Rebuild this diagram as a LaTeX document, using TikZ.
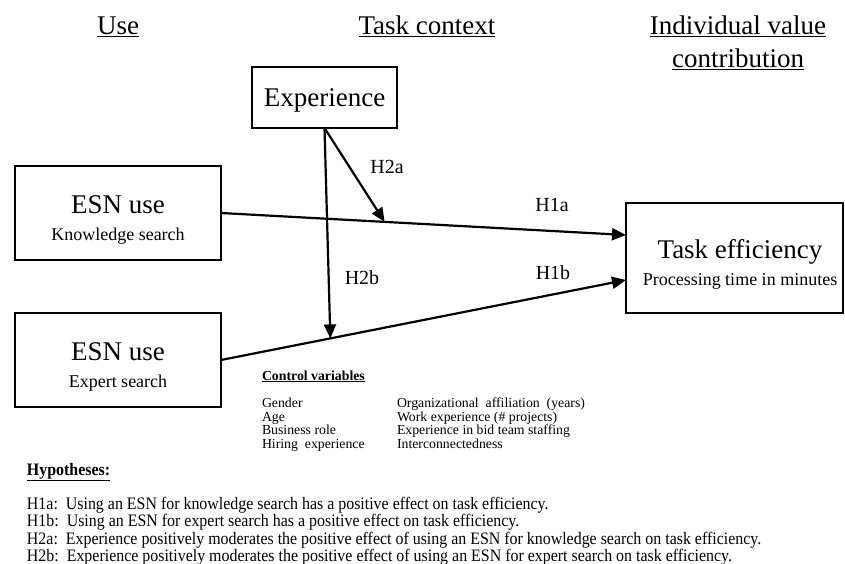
\documentclass[tikz,border=0pt]{standalone}
\usepackage{fontspec}
\setmainfont{Liberation Serif}
\newfontfamily\narrowserif{Liberation Serif}[FakeStretch=0.91]
\usetikzlibrary{arrows.meta,calc}

% extra head room above the first line of a box label
\newcommand{\toproom}{\rule{0pt}{31pt}}

\begin{document}
\begin{tikzpicture}[x=1pt,y=-1pt,
  every node/.style={inner sep=0pt, outer sep=0pt},
  box/.style={draw, line width=2.6pt, align=center},
  link/.style={line width=2.2pt, -{Triangle[length=14pt,width=12pt]}},
  head/.style={font=\fontsize{27}{32}\selectfont, anchor=base},
  hlabel/.style={font=\fontsize{20}{24}\selectfont},
  ctrl/.style={font=\fontsize{13.8}{13.5}\selectfont, anchor=base west},
  hyp/.style={font=\narrowserif\fontsize{17.5}{17}\selectfont, anchor=base west}]
\useasboundingbox (0,0) rectangle (845,564);

% column headings
\node[head] (hUse) at (118,35) {\underline{Use}};
\node[head] (hTask) at (427,35) {\underline{Task context}};
\node[head] (hInd1) at (738,35) {\underline{Individual value}};
\node[head] (hInd2) at (738,68) {\underline{contribution}};

% constructs
\node[box, minimum width=145pt, minimum height=61pt,
      font=\fontsize{27}{32}\selectfont] (exp) at (324.5,97.5) {\rule{0pt}{23pt}Experience};
\node[box, minimum width=206pt, minimum height=94pt,
      font=\fontsize{18}{27}\selectfont] (esn1) at (118,213)
  {{\fontsize{27}{27}\selectfont\toproom ESN use}\\Knowledge search};
\node[box, minimum width=206pt, minimum height=94pt,
      font=\fontsize{18}{27}\selectfont] (esn2) at (118,360)
  {{\fontsize{27}{27}\selectfont\toproom ESN use}\\Expert search};
\node[box, minimum width=217pt, minimum height=110pt,
      font=\fontsize{18}{27}\selectfont] (task) at (734.5,258)
  {{\fontsize{27}{27}\selectfont\toproom\hspace*{11pt}Task efficiency}\\\hspace*{11pt}Processing time in minutes};

% direct effects
\coordinate (t1) at ($(task.west)+(0,-23)$);
\coordinate (t2) at ($(task.west)+(0,22)$);
\draw[link] (esn1.east) -- (t1);
\draw[link] (esn2.east) -- (t2);

% moderation by experience
\coordinate (m1) at ($(esn1.east)!0.404!(t1)$);
\coordinate (m2) at ($(esn2.east)!0.27!(t2)$);
\draw[link] (exp.south) -- (m1);
\draw[link] (exp.south) -- (m2);

% path labels
\node[hlabel] (lH2a) at (387,167) {H2a};
\node[hlabel] (lH2b) at (362,278) {H2b};
\node[hlabel] (lH1a) at (552,205) {H1a};
\node[hlabel] (lH1b) at (553,273) {H1b};

% control variables
\node[ctrl, font=\bfseries\fontsize{13.8}{13.5}\selectfont] (ctrlT) at (262,380) {\underline{Control variables}};
\foreach \txt [count=\i] in {Gender, Age, Business role, Hiring\ \ experience}
  \node[ctrl] (cA\i) at (262,394+13.5*\i) {\txt};
\foreach \txt [count=\i] in {Organizational\ \ affiliation\ \ (years),
    Work experience (\# projects), Experience in bid team staffing, Interconnectedness}
  \node[ctrl] (cB\i) at (397,394+13.5*\i) {\txt};

% hypotheses
\node[hyp, font=\narrowserif\bfseries\fontsize{17.5}{17}\selectfont] (hypT) at (27,475) {\underline{Hypotheses:}};
\node[hyp] (hyp1) at (27,509) {H1a:\ \ Using an ESN for knowledge search has a positive effect on task efficiency.};
\node[hyp] (hyp2) at (27,526.5) {H1b:\ \ Using an ESN for expert search has a positive effect on task efficiency.};
\node[hyp] (hyp3) at (27,544) {H2a:\ \ Experience positively moderates the positive effect of using an ESN for knowledge search on task efficiency.};
\node[hyp] (hyp4) at (27,561.5) {H2b:\ \ Experience positively moderates the positive effect of using an ESN for expert search on task efficiency.};
\end{tikzpicture}
\end{document}
